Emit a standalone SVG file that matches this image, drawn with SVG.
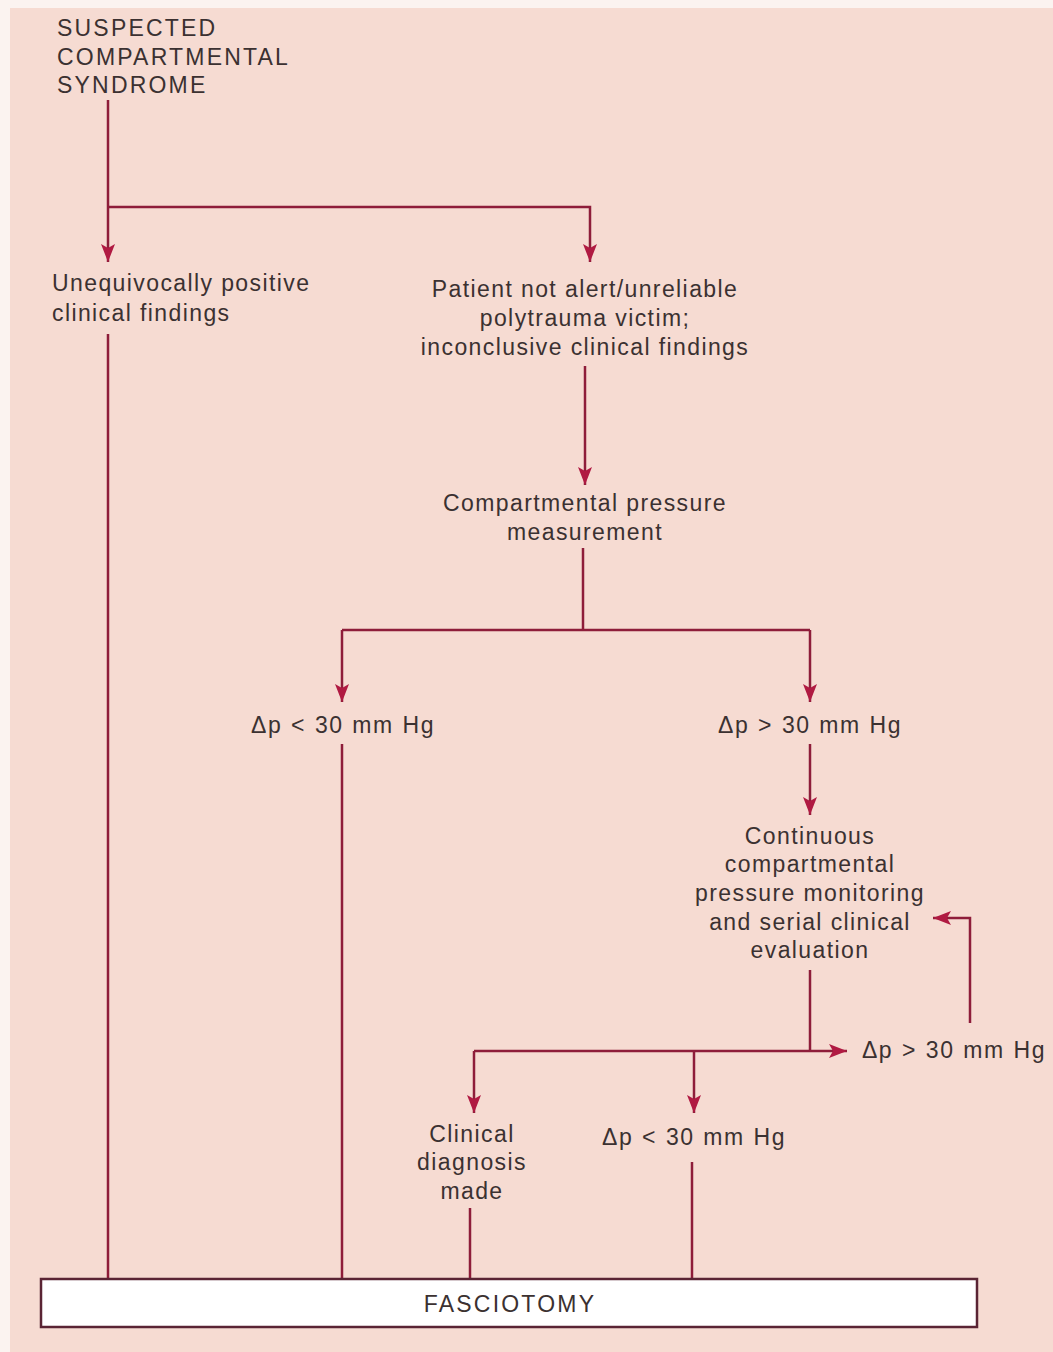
<svg xmlns="http://www.w3.org/2000/svg" width="1053" height="1352" viewBox="0 0 1053 1352">
<style>
.bg{fill:#f6dbd2}
.t{font-family:"Liberation Sans",Arial,sans-serif;font-size:23px;fill:#3b3131;letter-spacing:1.4px}
.u{letter-spacing:2.2px}
.d{word-spacing:1px;letter-spacing:1.5px}
.c{text-anchor:middle}
.ln{fill:none;stroke:#8e1d3a;stroke-width:2.5}
.box{fill:#ffffff;stroke:#5a2434;stroke-width:2.5}
</style>
<defs>
<marker id="ah" markerUnits="userSpaceOnUse" markerWidth="20" markerHeight="14" refX="18" refY="7" orient="auto">
<path d="M0,0 L18,7 L0,14 L4,7 z" fill="#b01a42"/>
</marker>
</defs>
<rect x="0" y="0" width="1053" height="1352" fill="#fbf3f0"/>
<rect class="bg" x="10" y="8" width="1043" height="1344"/>

<g id="connectors">
<path class="ln" d="M108,100 V262" marker-end="url(#ah)"/>
<path class="ln" d="M108,207 H590 V262" marker-end="url(#ah)"/>
<path class="ln" d="M108,334 V1279"/>
<path class="ln" d="M585,366 V485" marker-end="url(#ah)"/>
<path class="ln" d="M583,548 V630"/>
<path class="ln" d="M342,630 H810"/>
<path class="ln" d="M342,630 V702" marker-end="url(#ah)"/>
<path class="ln" d="M810,630 V702" marker-end="url(#ah)"/>
<path class="ln" d="M342,744 V1279"/>
<path class="ln" d="M810,744 V815" marker-end="url(#ah)"/>
<path class="ln" d="M810,970 V1051"/>
<path class="ln" d="M474,1051 H847" marker-end="url(#ah)"/>
<path class="ln" d="M970,1023 V918 H933" marker-end="url(#ah)"/>
<path class="ln" d="M474,1051 V1113" marker-end="url(#ah)"/>
<path class="ln" d="M694,1051 V1113" marker-end="url(#ah)"/>
<path class="ln" d="M470,1208 V1279"/>
<path class="ln" d="M692,1162 V1279"/>
</g>

<g id="n-start">
<text class="t u" x="57" y="36">SUSPECTED</text>
<text class="t u" x="57" y="65">COMPARTMENTAL</text>
<text class="t u" x="57" y="93">SYNDROME</text>
</g>
<g id="n-positive">
<text class="t" x="52" y="291">Unequivocally positive</text>
<text class="t" x="52" y="321">clinical findings</text>
</g>
<g id="n-notalert">
<text class="t c" x="585" y="297">Patient not alert/unreliable</text>
<text class="t c" x="585" y="326">polytrauma victim;</text>
<text class="t c" x="585" y="355">inconclusive clinical findings</text>
</g>
<g id="n-measure">
<text class="t c" x="585" y="511">Compartmental pressure</text>
<text class="t c" x="585" y="540">measurement</text>
</g>
<g id="n-lt30a">
<text class="t c d" x="343" y="733">Δp &lt; 30 mm Hg</text>
</g>
<g id="n-gt30a">
<text class="t c d" x="810" y="733">Δp &gt; 30 mm Hg</text>
</g>
<g id="n-monitor">
<text class="t c" x="810" y="844">Continuous</text>
<text class="t c" x="810" y="872">compartmental</text>
<text class="t c" x="810" y="901">pressure monitoring</text>
<text class="t c" x="810" y="930">and serial clinical</text>
<text class="t c" x="810" y="958">evaluation</text>
</g>
<g id="n-gt30b">
<text class="t d" x="862" y="1058">Δp &gt; 30 mm Hg</text>
</g>
<g id="n-clinical">
<text class="t c" x="472" y="1142">Clinical</text>
<text class="t c" x="472" y="1170">diagnosis</text>
<text class="t c" x="472" y="1199">made</text>
</g>
<g id="n-lt30b">
<text class="t c d" x="694" y="1145">Δp &lt; 30 mm Hg</text>
</g>
<g id="n-fasciotomy">
<rect class="box" x="41" y="1279" width="936" height="48"/>
<text class="t c u" x="510" y="1312">FASCIOTOMY</text>
</g>
</svg>
